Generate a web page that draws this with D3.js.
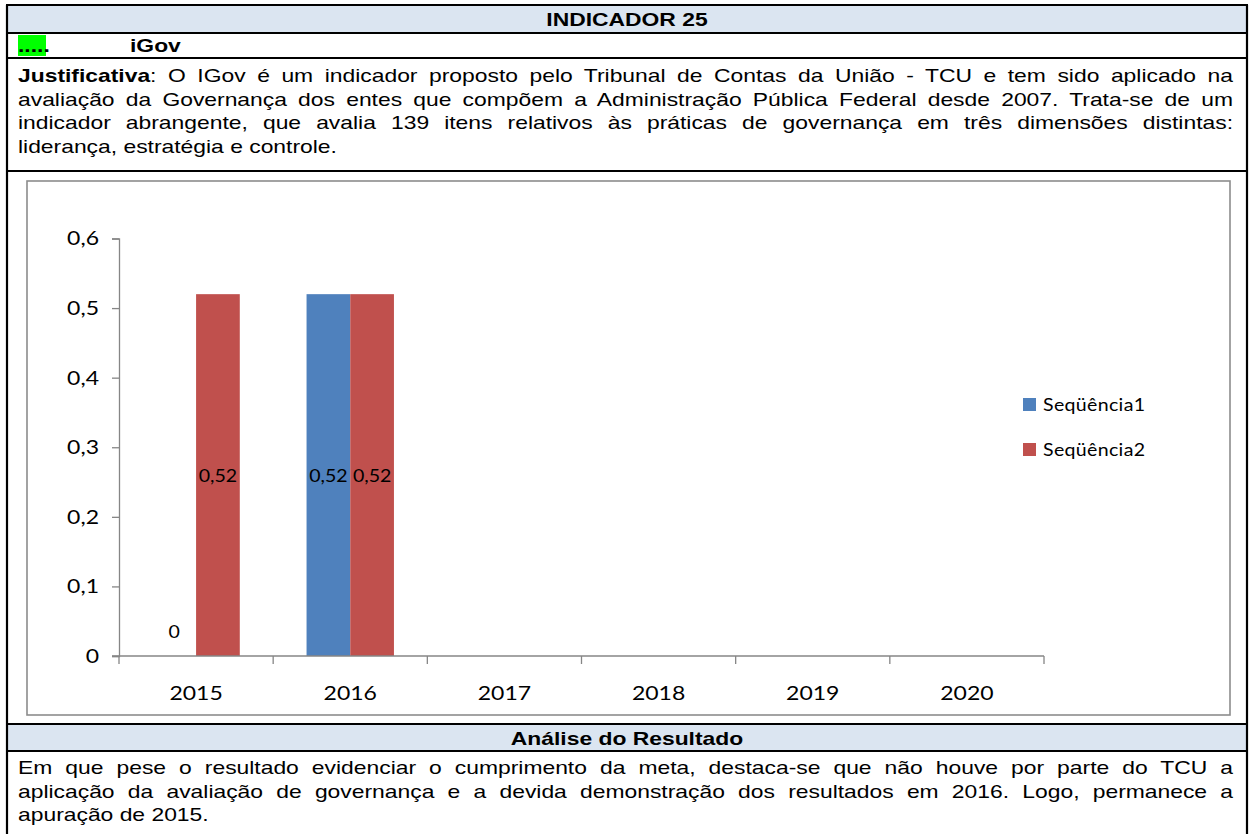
<!DOCTYPE html>
<html lang="pt">
<head>
    <meta charset="UTF-8">
    <script src="https://d3js.org/d3.v7.min.js"></script>
    <title>Indicador 25 - iGov</title>
    <style>
        body { margin: 0; background: #fff; }
        svg { display: block; }
    </style>
</head>
<body>
    <div id="page"></div>
    <script>
        // dados do grafico
        const categories = ["2015", "2016", "2017", "2018", "2019", "2020"];
        const seriesNames = ["Seqüência1", "Seqüência2"];
        const seq1 = [0, 0.52, null, null, null, null];
        const seq2 = [0.52, 0.52, null, null, null, null];
        const yTicks = [0, 0.1, 0.2, 0.3, 0.4, 0.5, 0.6];
        const colors = ["#4f81bd", "#c0504d"];

        // textos da tabela
        const justLines = [
            [{ t: "Justificativa", b: true }, { t: ": O IGov é um indicador proposto pelo Tribunal de Contas da União - TCU e tem sido aplicado na" }],
            [{ t: "avaliação da Governança dos entes que compõem a Administração Pública Federal desde 2007. Trata-se de um" }],
            [{ t: "indicador abrangente, que avalia 139 itens relativos às práticas de governança em três dimensões distintas:" }],
            [{ t: "liderança, estratégia e controle." }]
        ];
        const analiseLines = [
            [{ t: "Em que pese o resultado evidenciar o cumprimento da meta, destaca-se que não houve por parte do TCU a" }],
            [{ t: "aplicação da avaliação de governança e a devida demonstração dos resultados em 2016. Logo, permanece a" }],
            [{ t: "apuração de 2015." }]
        ];

        const W = 1250, H = 834;
        const SX = 1.23;   // o original esta esticado na horizontal
        const L = 7, R = 1247;

        const svg = d3.select("#page").append("svg")
            .attr("width", W)
            .attr("height", H);

        // linhas da tabela
        const rows = { top: 5, r1: 33, r2: 58, r3: 171, r4: 724, r5: 751 };

        svg.append("rect").attr("x", L).attr("y", rows.top).attr("width", R - L).attr("height", rows.r1 - rows.top).attr("fill", "#dbe5f1");
        svg.append("rect").attr("x", L).attr("y", rows.r4).attr("width", R - L).attr("height", rows.r5 - rows.r4).attr("fill", "#dbe5f1");
        svg.append("rect").attr("x", 18).attr("y", rows.r1 + 2).attr("width", 28).attr("height", rows.r2 - rows.r1 - 4).attr("fill", "#00ff00");

        const font = "'Liberation Sans', Arial, sans-serif";
        const fs = 18.6;

        function line(txt, x, y, opts) {
            const t = svg.append("text")
                .attr("transform", `translate(${x},${y}) scale(${SX},1)`)
                .attr("font-family", font)
                .attr("font-size", fs)
                .attr("fill", "#000")
                .attr("text-anchor", opts && opts.anchor || "start")
                .attr("font-weight", opts && opts.bold ? "bold" : null)
                .text(txt);
            return t;
        }

        function paragraph(lines, x0, x1, y0, lh) {
            const target = (x1 - x0) / SX;
            lines.forEach((segs, i) => {
                const t = svg.append("text")
                    .attr("transform", `translate(${x0},${y0 + i * lh}) scale(${SX},1)`)
                    .attr("font-family", font)
                    .attr("font-size", fs)
                    .attr("fill", "#000");
                segs.forEach(s => {
                    t.append("tspan").attr("font-weight", s.b ? "bold" : null).text(s.t);
                });
                if (i < lines.length - 1) {
                    const full = segs.map(s => s.t).join("");
                    const spaces = (full.match(/ /g) || []).length;
                    const nat = t.node().getComputedTextLength();
                    t.attr("word-spacing", (target - nat) / spaces);
                }
            });
        }

        line("INDICADOR 25", 627, 26, { anchor: "middle", bold: true });
        line(".....", 18, 52, { bold: true });
        line("iGov", 130, 52, { bold: true });
        paragraph(justLines, 18, 1233, 82, 23.6);
        line("Análise do Resultado", 627, 745, { anchor: "middle", bold: true });
        paragraph(analiseLines, 18, 1233, 774, 23.6);

        // bordas
        const border = svg.append("g").attr("stroke", "#000").attr("stroke-width", 2.2);
        [rows.top, rows.r1, rows.r2, rows.r3, rows.r4, rows.r5].forEach(y => {
            border.append("line").attr("x1", L - 1).attr("x2", R + 1).attr("y1", y).attr("y2", y);
        });
        border.append("line").attr("x1", L).attr("x2", L).attr("y1", rows.top).attr("y2", H);
        border.append("line").attr("x1", R).attr("x2", R).attr("y1", rows.top).attr("y2", H);

        // area do grafico
        svg.append("rect")
            .attr("x", 27).attr("y", 181)
            .attr("width", 1203).attr("height", 534)
            .attr("fill", "#fff")
            .attr("stroke", "#8c8c8c")
            .attr("stroke-width", 1.6);

        const chartFont = "Lato, 'Open Sans', sans-serif";
        const CSX = 1.15;

        const x = d3.scaleBand().domain(categories).range([119, 1044]);
        const groupW = 87.4;
        const x1 = d3.scaleBand().domain(seriesNames).range([0, groupW]);
        const y = d3.scaleLinear().domain([0, 0.6]).range([656, 238.5]);

        const fmt = d => d === 0 ? "0" : String(d).replace(".", ",");

        const g = svg.append("g");

        // eixo y
        const yAxis = g.append("g")
            .attr("transform", "translate(119,0)")
            .call(d3.axisLeft(y).tickValues(yTicks).tickSize(7).tickPadding(13).tickFormat(fmt));
        yAxis.select(".domain").attr("stroke", "#868686").attr("stroke-width", 1.3);
        yAxis.selectAll(".tick line").attr("stroke", "#868686").attr("stroke-width", 1.3);
        yAxis.selectAll(".tick text")
            .attr("font-family", chartFont)
            .attr("font-size", 20)
            .attr("fill", "#000")
            .attr("transform", `scale(${CSX},1)`)
            .attr("x", -20 / CSX);

        // barras
        const series = [seq1, seq2];
        series.forEach((vals, si) => {
            const data = categories.map((c, i) => ({ c, v: vals[i] })).filter(d => d.v !== null);
            const off = (x.bandwidth() - groupW) / 2;
            g.selectAll(".bar" + si)
                .data(data)
                .join("rect")
                .attr("x", d => x(d.c) + off + x1(seriesNames[si]))
                .attr("width", x1.bandwidth())
                .attr("y", d => y(d.v))
                .attr("height", d => y(0) - y(d.v))
                .attr("fill", colors[si]);

            g.selectAll(".lbl" + si)
                .data(data)
                .join("text")
                .attr("transform", d => {
                    const cx = x(d.c) + off + x1(seriesNames[si]) + x1.bandwidth() / 2;
                    const cy = d.v === 0 ? y(0) - 24 : y(d.v / 2);
                    return `translate(${cx},${cy}) scale(${CSX},1)`;
                })
                .attr("text-anchor", "middle")
                .attr("dominant-baseline", "central")
                .attr("font-family", chartFont)
                .attr("font-size", 17)
                .attr("fill", "#000")
                .text(d => fmt(d.v));
        });

        // eixo x
        const xa = g.append("g").attr("stroke", "#868686").attr("stroke-width", 1.3);
        xa.append("line").attr("x1", 112).attr("x2", x.range()[1]).attr("y1", y(0)).attr("y2", y(0));
        const edges = categories.map(c => x(c)).concat([x.range()[1]]);
        xa.selectAll(".xt").data(edges).join("line")
            .attr("x1", d => d).attr("x2", d => d)
            .attr("y1", y(0)).attr("y2", y(0) + 8);
        g.selectAll(".xl").data(categories).join("text")
            .attr("transform", d => `translate(${x(d) + x.bandwidth() / 2},693) scale(${CSX},1)`)
            .attr("text-anchor", "middle")
            .attr("dominant-baseline", "central")
            .attr("font-family", chartFont)
            .attr("font-size", 20)
            .attr("fill", "#000")
            .text(d => d);

        // legenda
        const leg = g.append("g").attr("transform", "translate(1023,398)");
        seriesNames.forEach((n, i) => {
            leg.append("rect").attr("x", 0).attr("y", i * 45).attr("width", 13).attr("height", 13).attr("fill", colors[i]);
            leg.append("text")
                .attr("transform", `translate(20,${i * 45 + 7}) scale(${CSX},1)`)
                .attr("dominant-baseline", "central")
                .attr("font-family", chartFont)
                .attr("font-size", 17)
                .attr("letter-spacing", 0.3)
                .attr("fill", "#000")
                .text(n);
        });
    </script>
</body>
</html>
